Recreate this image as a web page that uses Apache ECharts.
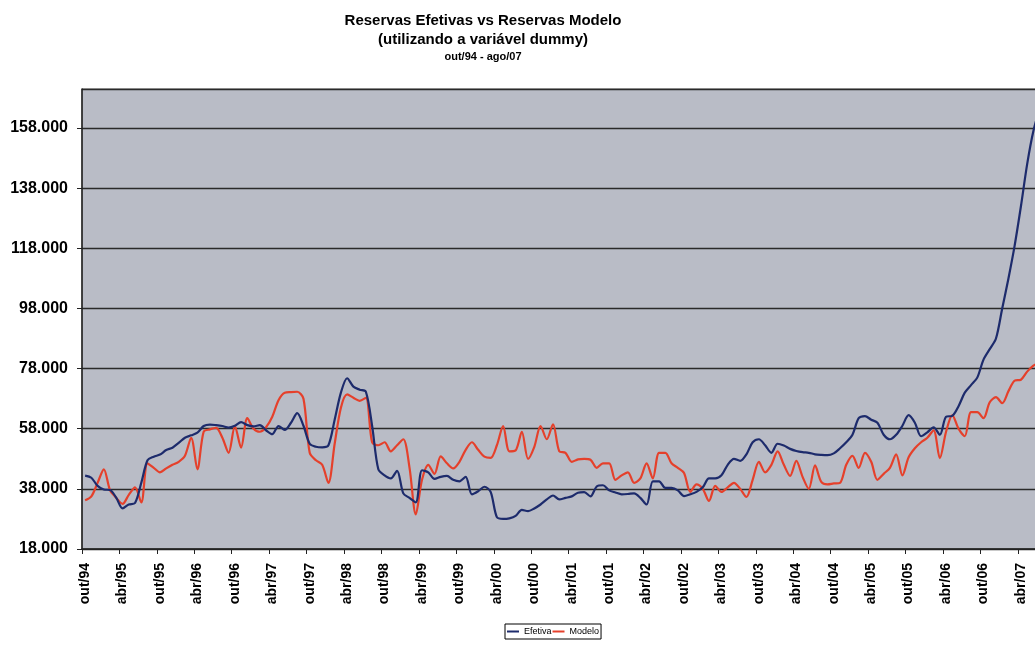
<!DOCTYPE html>
<html>
<head>
<meta charset="utf-8">
<title>Reservas Efetivas vs Reservas Modelo</title>
<script src="https://cdn.jsdelivr.net/npm/echarts@6/dist/echarts.min.js"></script>
<style>
  html, body { margin: 0; padding: 0; background: #ffffff; }
  #chart { width: 1035px; height: 653px; }
</style>
</head>
<body>
<div id="chart"></div>
<script>
// Reservas internacionais mensais (US$ milhões / 1000), out/94 a ago/07
const mesesAbrev = ['jan', 'fev', 'mar', 'abr', 'mai', 'jun', 'jul', 'ago', 'set', 'out', 'nov', 'dez'];
const inicioMes = 9;      // outubro
const inicioAno = 1994;
const totalMeses = 155;   // out/94 .. ago/07

const efetiva = [
  42.4, 41.7, 39.0, 37.8, 37.6, 35.0, 31.5, 32.8, 33.3, 40.0,
  47.5, 48.7, 49.4, 50.9, 51.7, 53.3, 55.0, 55.8, 56.7, 58.9,
  59.4, 59.2, 58.9, 58.4, 59.0, 60.2, 59.2, 58.8, 59.2, 57.5,
  56.2, 58.9, 57.6, 60.0, 63.2, 59.0, 53.0, 52.0, 51.8, 52.5,
  61.0, 70.0, 74.8, 72.0, 71.0, 70.3, 59.0, 44.5, 42.5, 41.5,
  44.0, 36.5, 35.0, 33.5, 44.2, 43.5, 41.3, 42.0, 42.3, 41.0,
  40.5, 42.0, 36.2, 37.2, 38.7, 37.0, 28.6, 28.0, 28.2, 29.0,
  31.0, 30.6, 31.5, 32.8, 34.5, 35.8, 34.5, 35.0, 35.5, 36.7,
  36.9, 35.5, 38.8, 39.2, 37.5, 36.8, 36.2, 36.3, 36.5, 35.0,
  32.8, 40.5, 40.5, 38.3, 38.3, 37.5, 35.6, 36.2, 37.0, 38.5,
  41.5, 41.5, 42.5, 46.0, 48.0, 47.3, 49.5, 53.5, 54.5, 52.5,
  50.0, 53.0, 52.4, 51.3, 50.6, 50.2, 50.0, 49.5, 49.3, 49.2,
  49.8, 51.5, 53.5, 56.0, 61.5, 62.2, 61.0, 60.0, 56.0, 54.5,
  56.0, 59.0, 62.5, 60.0, 55.5, 56.8, 58.5, 56.0, 62.0, 62.3,
  65.5, 70.0, 72.5, 75.0, 81.0, 84.5, 88.0, 98.0, 108.0, 119.0,
  132.0, 146.0, 157.0, 164.0, 168.0
];

const modelo = [
  34.2, 35.5, 40.0, 44.5, 37.5, 35.0, 33.0, 36.0, 38.5, 33.5,
  46.5, 45.0, 43.5, 44.8, 46.0, 47.0, 49.0, 55.0, 44.5, 57.0,
  57.8, 58.3, 55.0, 50.0, 58.9, 51.7, 61.5, 58.0, 57.0, 58.5,
  62.0, 67.5, 70.0, 70.2, 70.3, 68.0, 50.0, 47.5, 46.0, 40.0,
  53.0, 65.0, 69.4, 68.3, 67.3, 68.3, 53.5, 52.5, 53.5, 50.5,
  52.5, 54.5, 45.0, 29.5, 41.0, 46.0, 43.0, 48.8, 46.5, 44.8,
  47.0, 51.0, 53.5, 51.0, 48.7, 48.3, 52.5, 58.9, 50.5, 50.8,
  57.0, 48.0, 52.0, 58.9, 54.5, 59.5, 50.5, 50.0, 47.0, 47.8,
  48.0, 47.7, 45.0, 46.5, 46.5, 41.0, 42.5, 43.5, 40.0, 41.5,
  46.5, 41.5, 50.0, 50.0, 46.5, 45.0, 43.3, 37.0, 39.5, 38.0,
  34.0, 39.0, 37.0, 38.5, 40.0, 38.0, 35.3, 41.0, 47.0, 43.5,
  46.0, 50.5, 46.0, 42.3, 47.3, 42.0, 38.0, 45.8, 40.3, 39.5,
  39.8, 40.0, 46.0, 49.0, 45.0, 50.0, 47.0, 41.0, 43.0, 45.0,
  49.5, 42.5, 48.5, 51.5, 53.5, 55.0, 57.5, 48.2, 57.0, 62.5,
  58.0, 55.5, 63.5, 63.5, 61.5, 66.8, 68.5, 66.5, 70.5, 74.0,
  74.3, 77.0, 79.0, 80.0, 81.0
];

// Rótulos do eixo vertical: 18.000 a 158.000, passo 20.000
const eixoMin = 18;
const eixoMax = 171;
const eixoPasso = 20;

// Categorias mensais "mmm/aa"
const meses = [];
for (let k = 0; k < totalMeses; k++) {
  const m = (inicioMes + k) % 12;
  const a = inicioAno + Math.floor((inicioMes + k) / 12);
  meses.push(mesesAbrev[m] + '/' + String(a % 100).padStart(2, '0'));
}

function milhar(v) {
  return String(Math.round(v * 1000)).replace(/\B(?=(\d{3})+(?!\d))/g, '.');
}

const fonte = "'Liberation Sans', Arial, sans-serif";
const chart = echarts.init(document.getElementById('chart'), null, { renderer: 'canvas' });

chart.setOption({
  animation: false,
  backgroundColor: '#ffffff',
  title: [
    {
      text: 'Reservas Efetivas vs Reservas Modelo',
      left: 478, top: 8, textAlign: 'center',
      textStyle: { fontFamily: fonte, fontSize: 15, fontWeight: 'bold', color: '#000' }
    },
    {
      text: '(utilizando a variável dummy)',
      left: 478, top: 27, textAlign: 'center',
      textStyle: { fontFamily: fonte, fontSize: 15, fontWeight: 'bold', color: '#000' }
    },
    {
      text: 'out/94 - ago/07',
      left: 478, top: 46, textAlign: 'center',
      textStyle: { fontFamily: fonte, fontSize: 11, fontWeight: 'bold', color: '#000' }
    }
  ],
  legend: {
    data: ['Efetiva', 'Modelo'],
    left: 505, top: 624,
    orient: 'horizontal',
    icon: 'rect',
    itemWidth: 12, itemHeight: 2, itemGap: 1,
    padding: [3, 2, 3, 2],
    borderColor: '#000', borderWidth: 1,
    backgroundColor: '#fff',
    textStyle: { fontFamily: "'Liberation Sans Narrow', 'Liberation Sans', Arial, sans-serif", fontSize: 9, color: '#000' }
  },
  grid: {
    left: 82, top: 89, width: 967, height: 460,
    outerBoundsMode: 'none',
    show: true,
    backgroundColor: '#b9bcc6',
    borderColor: '#555', borderWidth: 1
  },
  xAxis: {
    type: 'category',
    data: meses,
    boundaryGap: true,
    axisLine: { show: true, lineStyle: { color: '#222', width: 1.5 } },
    axisTick: { show: true, interval: 5, length: 5, alignWithLabel: false, lineStyle: { color: '#222', width: 1 } },
    axisLabel: {
      interval: 5, rotate: 90, margin: 14,
      fontFamily: fonte, fontSize: 14, fontWeight: 'bold', color: '#000'
    },
    splitLine: { show: false }
  },
  yAxis: {
    type: 'value',
    min: eixoMin, max: eixoMax, interval: eixoPasso,
    axisLine: { show: true, lineStyle: { color: '#222', width: 1.5 } },
    axisTick: { show: true, length: 5, lineStyle: { color: '#222' } },
    axisLabel: {
      showMaxLabel: false, margin: 14,
      fontFamily: fonte, fontSize: 16, fontWeight: 'bold', color: '#000',
      formatter: milhar
    },
    splitLine: { show: true, lineStyle: { color: '#2a2a2a', width: 1.3 } }
  },
  series: [
    {
      name: 'Efetiva', type: 'line', data: efetiva,
      showSymbol: false, smooth: 0.3,
      lineStyle: { color: '#1d2b6c', width: 2.2 },
      itemStyle: { color: '#1d2b6c' },
      z: 3
    },
    {
      name: 'Modelo', type: 'line', data: modelo,
      showSymbol: false, smooth: 0.3,
      lineStyle: { color: '#e5402b', width: 2.2 },
      itemStyle: { color: '#e5402b' },
      z: 2
    }
  ]
});
</script>
</body>
</html>
